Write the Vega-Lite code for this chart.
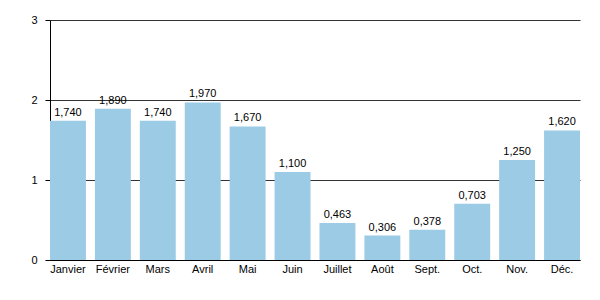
{
  "$schema": "https://vega.github.io/schema/vega-lite/v6.json",
  "autosize": {"type": "none"},
  "padding": {"left": 50, "top": 20, "right": 20, "bottom": 40},
  "width": 530,
  "height": 240,
  "background": "white",
  "config": {
    "view": {"stroke": null},
    "font": "Liberation Sans",
    "axis": {"labelFont": "Liberation Sans", "labelFontSize": 11, "labelColor": "#000", "titleFontSize": 11}
  },
  "data": {
    "values": [
      {"mois": "Janvier", "v": 1.74, "lab": "1,740"},
      {"mois": "Février", "v": 1.89, "lab": "1,890"},
      {"mois": "Mars", "v": 1.74, "lab": "1,740"},
      {"mois": "Avril", "v": 1.97, "lab": "1,970"},
      {"mois": "Mai", "v": 1.67, "lab": "1,670"},
      {"mois": "Juin", "v": 1.1, "lab": "1,100"},
      {"mois": "Juillet", "v": 0.463, "lab": "0,463"},
      {"mois": "Août", "v": 0.306, "lab": "0,306"},
      {"mois": "Sept.", "v": 0.378, "lab": "0,378"},
      {"mois": "Oct.", "v": 0.703, "lab": "0,703"},
      {"mois": "Nov.", "v": 1.25, "lab": "1,250"},
      {"mois": "Déc.", "v": 1.62, "lab": "1,620"}
    ]
  },
  "encoding": {
    "x": {
      "field": "mois", "type": "nominal", "sort": null,
      "scale": {"paddingInner": 0.2, "paddingOuter": 0},
      "axis": {"title": null, "labelAngle": 0, "ticks": false, "domainColor": "#000", "domainWidth": 1, "labelPadding": 3}
    },
    "y": {
      "field": "v", "type": "quantitative",
      "scale": {"domain": [0, 3]},
      "axis": {"title": null, "values": [0, 1, 2, 3], "format": "d", "grid": true, "gridColor": "#333", "gridOpacity": 1, "domainColor": "#000", "tickColor": "#000", "tickSize": 5, "labelPadding": 8, "labelFontSize": 11}
    }
  },
  "layer": [
    {"mark": {"type": "bar", "color": "#9ccbe6"}},
    {"mark": {"type": "text", "baseline": "bottom", "dy": -3, "fontSize": 11, "color": "#000", "font": "Liberation Sans"}, "encoding": {"text": {"field": "lab"}}}
  ]
}
